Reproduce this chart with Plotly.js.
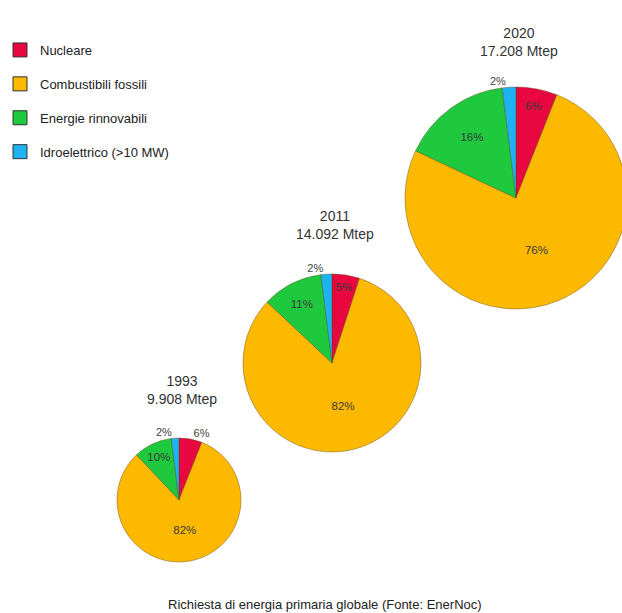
<!DOCTYPE html>
<html>
<head>
<meta charset="utf-8">
<script src="https://cdn.plot.ly/plotly-3.0.1.min.js"></script>
<style>
html,body{margin:0;padding:0;overflow:hidden;background:#fff;}
#chart{width:632px;height:613px;}
</style>
</head>
<body>
<div id="chart"></div>
<script>
// ---- data ----
var categories = ['Nucleare', 'Combustibili fossili', 'Energie rinnovabili', 'Idroelettrico (>10 MW)'];
var years = ['1993', '2011', '2020'];
var totals = ['9.908 Mtep', '14.092 Mtep', '17.208 Mtep'];
var share1993 = [6, 82, 10, 2];
var share2011 = [5, 82, 11, 2];
var share2020 = [6, 76, 16, 2];
var caption = 'Richiesta di energia primaria globale (Fonte: EnerNoc)';

// ---- styling ----
var colors = ['#e8073f', '#fcb900', '#1ec93e', '#1cb3f0'];
var W = 632, H = 613;
var FONT = 'Liberation Sans, Arial, Helvetica, sans-serif';
function fx(p) { return p / W; }
function fy(p) { return 1 - p / H; }

// pie geometry in pixels: center x, center y, radius, title gap
var geom = [
  {cx: 179, cy: 500, r: 62, gap: 29},
  {cx: 332, cy: 363, r: 89, gap: 30},
  {cx: 516, cy: 198, r: 111, gap: 26}
];
var shares = [share1993, share2011, share2020];
var textpos = [
  ['outside', 'inside', 'inside', 'outside'],
  ['inside', 'inside', 'inside', 'outside'],
  ['inside', 'inside', 'inside', 'outside']
];

var traces = [];
shares.forEach(function (vals, i) {
  var g = geom[i];
  traces.push({
    type: 'pie',
    labels: categories,
    values: vals,
    sort: false,
    direction: 'clockwise',
    rotation: 0,
    domain: {
      x: [fx(g.cx - g.r), fx(g.cx + g.r)],
      y: [fy(g.cy + g.r), fy(g.cy - g.r)]
    },
    marker: {colors: colors, line: {color: 'rgba(90,70,20,0.6)', width: 0.7}},
    textinfo: 'percent',
    textposition: textpos[i],
    insidetextorientation: 'horizontal',
    textfont: {family: FONT, size: 11.5, color: '#3a3a3a'},
    outsidetextfont: {family: FONT, size: 11, color: '#444'},
    showlegend: false,
    hoverinfo: 'label+percent',
    name: years[i]
  });
});

// legend entries
categories.forEach(function (c, i) {
  traces.push({
    type: 'scatter',
    mode: 'markers',
    x: [null], y: [null],
    name: c,
    legendgroup: 'g' + i,
    marker: {symbol: 'square', size: 14, color: colors[i], line: {color: '#333', width: 1}},
    hoverinfo: 'skip'
  });
});

var annotations = [];
years.forEach(function (y, i) {
  var g = geom[i];
  annotations.push({
    xref: 'paper', yref: 'paper',
    x: fx(g.cx + 3), y: fy(g.cy - g.r - g.gap),
    xanchor: 'center', yanchor: 'bottom',
    text: y + '<br>' + totals[i],
    showarrow: false,
    font: {family: FONT, size: 14, color: '#333'}
  });
});
annotations.push({
  xref: 'paper', yref: 'paper',
  x: fx(325), y: fy(604),
  xanchor: 'center', yanchor: 'middle',
  text: caption,
  showarrow: false,
  font: {family: FONT, size: 13, color: '#222'}
});

var layout = {
  width: W, height: H,
  margin: {l: 0, r: 0, t: 0, b: 0},
  paper_bgcolor: '#fff',
  plot_bgcolor: 'rgba(0,0,0,0)',
  xaxis: {visible: false},
  yaxis: {visible: false},
  showlegend: true,
  legend: {
    x: 0, y: fy(35), xanchor: 'left', yanchor: 'top',
    tracegroupgap: 14,
    font: {family: FONT, size: 13, color: '#222'},
    bgcolor: 'rgba(0,0,0,0)'
  },
  annotations: annotations
};

Plotly.newPlot('chart', traces, layout, {staticPlot: true, displayModeBar: false});
</script>
</body>
</html>
